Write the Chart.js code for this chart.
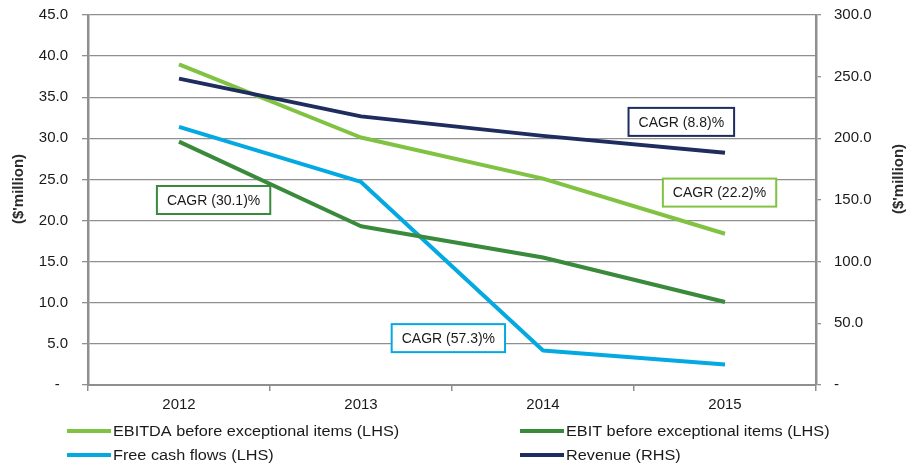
<!DOCTYPE html>
<html>
<head>
<meta charset="utf-8">
<script src="https://cdn.jsdelivr.net/npm/chart.js@4.4.1/dist/chart.umd.min.js"></script>
<style>
  html, body { margin: 0; padding: 0; background: #ffffff; }
  #wrap { position: relative; width: 906px; height: 466px; }
</style>
</head>
<body>
<div id="wrap"><canvas id="chart"></canvas></div>
<script>
// Financial performance 2012-2015 ($'million)
const years = ['2012', '2013', '2014', '2015'];
const ebitda = [39.0, 30.1, 25.1, 18.4];      // LHS
const ebit = [29.6, 19.3, 15.5, 10.1];        // LHS
const freeCashFlows = [31.4, 24.7, 4.2, 2.5]; // LHS
const revenue = [248.4, 217.8, 202.0, 188.4]; // RHS

const seriesLabels = [
  'EBITDA before exceptional items (LHS)',
  'EBIT before exceptional items (LHS)',
  'Free cash flows (LHS)',
  'Revenue (RHS)'
];
const seriesColors = ['#80c241', '#3a8a3c', '#05a9e1', '#1e2c5e'];

// CAGR call-outs: text, colour, anchor (category index, LHS value)
const cagrTexts = ['CAGR (30.1)%', 'CAGR (57.3)%', 'CAGR (8.8)%', 'CAGR (22.2)%'];
const cagrColors = ['#3a8a3c', '#05a9e1', '#1e2c5e', '#80c241'];
const cagrAnchorIdx = [0.19, 1.48, 2.76, 2.97];
const cagrAnchorVal = [22.5, 5.7, 32.0, 23.4];

const FONT = '"Liberation Sans", Arial, Helvetica, sans-serif';
const TEXT = '#1a1a1a';
const GRID = '#8f8f8f';

const fmtLeft = v => v === 0 ? '-  ' : v.toFixed(1);
const fmtRight = v => v === 0 ? '-' : v.toFixed(1);

const calloutPlugin = {
  id: 'cagrCallouts',
  afterDatasetsDraw(chart) {
    const ctx = chart.ctx, x = chart.scales.x, y = chart.scales.y;
    ctx.save();
    ctx.font = '14px ' + FONT;
    ctx.textAlign = 'center';
    ctx.textBaseline = 'middle';
    cagrTexts.forEach((t, i) => {
      const cx = x.getPixelForValue(cagrAnchorIdx[i]);
      const cy = y.getPixelForValue(cagrAnchorVal[i]);
      const w = ctx.measureText(t).width + 20;
      const h = 28;
      ctx.fillStyle = '#ffffff';
      ctx.fillRect(cx - w / 2, cy - h / 2, w, h);
      ctx.lineWidth = 2;
      ctx.strokeStyle = cagrColors[i];
      ctx.strokeRect(cx - w / 2, cy - h / 2, w, h);
      ctx.fillStyle = TEXT;
      ctx.fillText(t, cx, cy + 1);
    });
    ctx.restore();
  }
};

const axisTitlePlugin = {
  id: 'axisTitles',
  afterDraw(chart) {
    const ctx = chart.ctx;
    ctx.save();
    ctx.font = 'bold 15px ' + FONT;
    ctx.fillStyle = '#2a2a2a';
    ctx.textAlign = 'center';
    ctx.textBaseline = 'middle';
    [[19, 189], [899, 179]].forEach(([px, py]) => {
      ctx.save();
      ctx.translate(px, py);
      ctx.rotate(-Math.PI / 2);
      ctx.fillText("($'million)", 0, 0);
      ctx.restore();
    });
    ctx.restore();
  }
};

// Two-column legend below the axis; labels drawn slightly wide
const legendPlugin = {
  id: 'twoColumnLegend',
  afterDraw(chart) {
    const ctx = chart.ctx;
    const cols = [67, 520];
    const rows = [431, 455];
    ctx.save();
    ctx.font = '14px ' + FONT;
    ctx.textAlign = 'left';
    ctx.textBaseline = 'middle';
    chart.data.datasets.forEach((ds, i) => {
      const lx = cols[i % 2], ly = rows[Math.floor(i / 2)];
      ctx.strokeStyle = ds.borderColor;
      ctx.lineWidth = 4;
      ctx.beginPath();
      ctx.moveTo(lx, ly);
      ctx.lineTo(lx + 44, ly);
      ctx.stroke();
      ctx.save();
      ctx.translate(lx + 46, ly + 1);
      ctx.scale(1.16, 1);
      ctx.fillStyle = TEXT;
      ctx.fillText(ds.label, 0, 0);
      ctx.restore();
    });
    ctx.restore();
  }
};

const lhsSeries = [ebitda, ebit, freeCashFlows];
const datasets = lhsSeries.map((d, i) => ({
  label: seriesLabels[i], data: d, yAxisID: 'y', order: 1
}));
datasets.push({ label: seriesLabels[3], data: revenue, yAxisID: 'y2', order: 0 });
datasets.forEach((ds, i) => {
  Object.assign(ds, {
    borderColor: seriesColors[i],
    backgroundColor: seriesColors[i],
    borderWidth: 4,
    pointRadius: 0,
    tension: 0,
    borderCapStyle: 'butt',
    borderJoinStyle: 'round',
    fill: false
  });
});

// vertical axes: fixed width, no extra space reserved above/below for labels
const fixVertical = w => s => { s.width = w; s.paddingTop = 0; s.paddingBottom = 0; };

new Chart(document.getElementById('chart'), {
  type: 'line',
  data: { labels: years, datasets },
  plugins: [calloutPlugin, axisTitlePlugin, legendPlugin],
  options: {
    responsive: true,
    maintainAspectRatio: false,
    animation: false,
    layout: { padding: { top: 15, left: 0, right: 0, bottom: 0 } },
    plugins: { legend: { display: false }, tooltip: { enabled: false }, title: { display: false } },
    scales: {
      x: {
        offset: true,
        grid: { offset: true, drawOnChartArea: false, drawTicks: true, tickLength: 6, color: GRID, lineWidth: 1.5 },
        border: { display: true, color: GRID, width: 2 },
        ticks: { color: TEXT, font: { family: FONT, size: 15 }, padding: 5, maxRotation: 0 },
        afterFit(s) { s.height = 81; }
      },
      y: {
        position: 'left',
        min: 0, max: 45,
        ticks: { stepSize: 5, color: TEXT, font: { family: FONT, size: 15 }, padding: 14, callback: fmtLeft },
        grid: { color: GRID, lineWidth: 1.3, tickLength: 6 },
        border: { display: true, color: GRID, width: 2.5 },
        afterFit: fixVertical(88)
      },
      y2: {
        position: 'right',
        min: 0, max: 300,
        ticks: { stepSize: 50, color: TEXT, font: { family: FONT, size: 15 }, padding: 13, callback: fmtRight },
        grid: { drawOnChartArea: false, drawTicks: true, tickLength: 5, color: GRID, lineWidth: 1.3 },
        border: { display: true, color: GRID, width: 2.5 },
        afterFit: fixVertical(90)
      }
    }
  }
});
</script>
</body>
</html>
